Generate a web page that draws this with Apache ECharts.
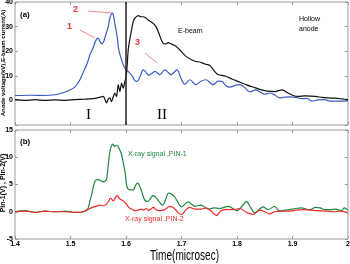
<!DOCTYPE html>
<html>
<head>
<meta charset="utf-8">
<script src="https://cdn.jsdelivr.net/npm/echarts@6/dist/echarts.min.js"></script>
<style>html,body{margin:0;padding:0;background:#fff}#c{width:350px;height:264px}</style>
</head>
<body>
<div id="c"></div>
<script>
// ---- data (time in microseconds) ----
var tBlue = [1.400,1.427,1.454,1.472,1.485,1.499,1.508,1.517,1.524,1.530,1.535,1.541,1.546,1.550,1.553,1.557,1.560,1.564,1.568,1.571,1.575,1.577,1.580,1.584,1.587,1.592,1.596,1.600,1.605,1.611,1.616,1.620,1.625,1.631,1.636,1.641,1.647,1.652,1.661,1.670,1.681,1.692,1.699,1.706,1.715,1.726,1.735,1.744,1.757,1.766,1.773,1.780,1.787,1.798,1.805,1.814,1.823,1.834,1.841,1.850,1.859,1.868,1.877,1.886,1.895,1.906,1.917,1.926,1.935,1.946,1.957,1.968,1.986,2.000];
var anodeVoltage = [2.0,2.1,2.0,2.3,3.0,4.2,5.5,8.4,12,15,18.5,21.5,24.5,25.3,24,23,24,27,30,33.5,35.5,35,31,26,20.5,16.5,14,12.5,11.5,10,8,7.7,9.5,12.4,11.5,10.2,11,11.8,10.5,12.4,10.5,12.4,9,6.6,8.4,6.4,7.8,8.4,6.4,7.8,7.7,6,5.4,6.2,6.4,5.2,3.5,4.3,3.5,2.5,3.0,2.2,1.0,1.3,1.4,1.2,0.7,0.8,-0.3,0.2,0.3,-0.3,-0.3,-0.2];

var tBeam = [1.400,1.418,1.436,1.454,1.472,1.490,1.508,1.526,1.544,1.553,1.559,1.562,1.565,1.568,1.571,1.574,1.577,1.580,1.583,1.586,1.589,1.592,1.595,1.598,1.600,1.602,1.604,1.607,1.610,1.613,1.616,1.622,1.627,1.631,1.636,1.640,1.645,1.649,1.654,1.658,1.663,1.667,1.672,1.676,1.681,1.685,1.690,1.697,1.703,1.709,1.718,1.726,1.733,1.742,1.751,1.759,1.766,1.773,1.780,1.792,1.805,1.818,1.832,1.844,1.856,1.868,1.881,1.892,1.901,1.910,1.923,1.941,1.953,1.964,1.977,1.989,2.000];
var beamCurrent = [0.3,0,0.3,0,0.2,0,0.3,0.5,0.8,1.3,1.6,0.5,-1,0.5,1,-0.5,1.5,3,1.6,6.4,3.6,7,5,7.7,9,14,20.5,25,28.6,32,33.4,34.5,34,34,33.5,32.7,32,31.3,30,28,25,23.2,23,23.5,23,22.6,22,20.5,19,17.8,16.5,15.8,15.6,14.8,14.2,12,10.4,10.2,9.8,8.6,7.4,6.2,5.2,4.3,3.8,3.6,4.3,3,2,1.6,1.8,1.6,1.2,1.0,0.9,0.6,0.3];

var tPin1 = [1.400,1.418,1.436,1.454,1.472,1.490,1.508,1.523,1.528,1.532,1.535,1.538,1.541,1.544,1.548,1.553,1.559,1.562,1.565,1.568,1.571,1.576,1.580,1.584,1.588,1.592,1.595,1.598,1.602,1.607,1.613,1.617,1.621,1.625,1.629,1.632,1.637,1.641,1.649,1.654,1.658,1.666,1.672,1.676,1.681,1.688,1.700,1.712,1.724,1.735,1.748,1.759,1.769,1.784,1.800,1.809,1.817,1.825,1.832,1.847,1.856,1.868,1.877,1.886,1.895,1.905,1.917,1.924,1.932,1.941,1.950,1.959,1.968,1.977,1.989,1.993,2.000];
var pin1 = [0,0.2,-0.1,0.1,0,0.1,-0.1,0,0.3,0.7,2,3.1,4.5,5.6,5.9,5.8,5.5,5.6,6,8.5,11,12.4,12,12.2,11.5,10.5,9,7.5,4.5,4,4,4.8,5.3,4.6,3.5,2.5,1.9,2.0,3.0,2.6,2.1,1.2,2.4,3.4,3.3,2.7,0.9,1.8,1.0,1.2,0.5,0.7,0.6,1.0,0.2,1.0,1.9,0.7,-0.2,0.9,0.4,1.0,0.1,0.3,0.4,0.6,0.7,0.5,0.4,0.8,0.7,0.4,0.4,0.5,0.2,0.7,0.3];

var tPin2 = [1.400,1.418,1.436,1.454,1.472,1.490,1.508,1.523,1.532,1.539,1.546,1.553,1.559,1.565,1.569,1.572,1.577,1.581,1.584,1.587,1.591,1.595,1.601,1.605,1.610,1.616,1.622,1.627,1.631,1.637,1.640,1.645,1.649,1.654,1.658,1.667,1.674,1.679,1.685,1.690,1.695,1.701,1.708,1.715,1.724,1.735,1.744,1.753,1.763,1.771,1.780,1.793,1.805,1.817,1.829,1.841,1.850,1.859,1.868,1.877,1.895,1.906,1.919,1.932,1.944,1.962,1.975,1.986,2.000];
var pin2 = [0,0.1,-0.1,0.1,0,0,-0.1,0,0.4,0.8,1.0,1.2,1.1,1.4,2.0,2.5,2.0,2.6,3.0,2.6,2.2,2.0,1.4,0.8,0.5,0.2,0.3,0.5,0.3,0.6,0.2,0.5,0.8,0.4,0.2,0.3,0.7,1.0,0.8,0.3,-0.3,-0.5,0.4,0.8,0.5,0.5,0.7,0.2,-0.7,0.2,0.4,0.4,0.6,-0.1,-0.5,0.3,0.0,-0.4,0.0,0.1,0.1,0.3,0.4,0.3,0.2,0.1,0.0,0.1,-0.2];

var xTicks = [1.4,1.5,1.6,1.7,1.8,1.9,2];
var yTicksTop = [-10,0,10,20,30,40];
var yTicksBottom = [-5,0,5,10,15];

function zip(a,b){ return a.map(function(v,i){ return [v,b[i]]; }); }

var chart = echarts.init(document.getElementById('c'), null, {renderer:'canvas'});
var FONT = 'Liberation Sans, Arial, sans-serif';
var gray = '#9a9a9a';
var lblStyle = {fontFamily: FONT, fontSize: 7, fontWeight: 'bold', color: '#000'};

function xAx(gi, pos, showLabel){
  return {
    type:'value', gridIndex: gi, position: pos,
    min: xTicks[0], max: xTicks[xTicks.length-1], interval: 0.1,
    axisLine:{show:false, onZero:false},
    axisTick:{show:true, inside:true, length:3, lineStyle:{color:gray}},
    splitLine:{show:false},
    axisLabel: showLabel ? Object.assign({show:true, margin:2, formatter:function(v){return String(Math.round(v*10)/10);}}, lblStyle) : {show:false}
  };
}
function yAx(gi, pos, ticks, showLabel, hideMin){
  return {
    type:'value', gridIndex: gi, position: pos,
    min: ticks[0], max: ticks[ticks.length-1], interval: ticks[1]-ticks[0],
    axisLine:{show:false, onZero:false},
    axisTick:{show:true, inside:true, length:3, lineStyle:{color:gray}},
    splitLine:{show:false},
    axisLabel: showLabel ? Object.assign({show:true, margin:2, formatter:function(v){ return (hideMin && v===ticks[0]) ? '' : String(v);}}, lblStyle) : {show:false}
  };
}

var arrowStyle = {color:'#f08a8a', width:1, type:'solid'};

chart.setOption({
  backgroundColor:'#fff',
  animation:false,
  grid:[
    {left:15, right:2, top:2, height:123, containLabel:false, outerBoundsMode:'none', show:true, borderColor:gray, borderWidth:1, backgroundColor:'transparent'},
    {left:15, right:2, top:130, height:109, containLabel:false, outerBoundsMode:'none', show:true, borderColor:gray, borderWidth:1, backgroundColor:'transparent'}
  ],
  xAxis:[
    xAx(0,'bottom',false),
    xAx(0,'top',false),
    xAx(1,'bottom',true),
    xAx(1,'top',false)
  ],
  yAxis:[
    yAx(0,'left',yTicksTop,true,true),
    yAx(0,'right',yTicksTop,false),
    yAx(1,'left',yTicksBottom,true,false),
    yAx(1,'right',yTicksBottom,false)
  ],
  series:[
    {type:'line', name:'Anode voltage', xAxisIndex:0, yAxisIndex:0, data: zip(tBlue, anodeVoltage), showSymbol:false, smooth:0.35,
      lineStyle:{color:'#3b5cc4', width:1.2}, itemStyle:{color:'#3b5cc4'},
      markLine:{silent:true, symbol:['none','arrow'], symbolSize:[0,5], label:{show:false}, lineStyle:arrowStyle,
        data:[
          [{coord:[1.517,28.6]},{coord:[1.544,25.4]}],
          [{coord:[1.5315,36.3]},{coord:[1.573,35.6]}],
          [{coord:[1.634,19.3]},{coord:[1.656,15.3]}]
        ]}
    },
    {type:'line', name:'E-beam', xAxisIndex:0, yAxisIndex:0, data: zip(tBeam, beamCurrent), showSymbol:false, smooth:0.25,
      lineStyle:{color:'#111', width:1.2}, itemStyle:{color:'#111'},
      markLine:{silent:true, symbol:['none','none'], label:{show:false}, lineStyle:{color:'#222', width:1.5, type:'solid'},
        data:[{xAxis:1.6}]}
    },
    {type:'line', name:'PIN-1', xAxisIndex:2, yAxisIndex:2, data: zip(tPin1, pin1), showSymbol:false, smooth:0.3,
      lineStyle:{color:'#1f8a3e', width:1.2}, itemStyle:{color:'#1f8a3e'}},
    {type:'line', name:'PIN-2', xAxisIndex:2, yAxisIndex:2, data: zip(tPin2, pin2), showSymbol:false, smooth:0.3,
      lineStyle:{color:'#ee2a2a', width:1.2}, itemStyle:{color:'#ee2a2a'}}
  ],
  graphic:[
    {type:'text', left:20, top:11, style:{text:'(a)', font:'bold 8px Liberation Sans', fill:'#000'}},
    {type:'text', left:20, top:138, style:{text:'(b)', font:'bold 8px Liberation Sans', fill:'#000'}},
    {type:'text', left:67, top:22, style:{text:'1', font:'bold 9px Liberation Sans', fill:'#ee3333'}},
    {type:'text', left:73, top:5, style:{text:'2', font:'bold 9px Liberation Sans', fill:'#ee3333'}},
    {type:'text', left:135, top:38, style:{text:'3', font:'bold 9px Liberation Sans', fill:'#ee3333'}},
    {type:'text', left:178, top:28, style:{text:'E-beam', font:'7px Liberation Sans', fill:'#000'}},
    {type:'text', left:299, top:14, style:{text:'Hollow\nanode', font:'7px Liberation Sans', fill:'#000', lineHeight:10}},
    {type:'text', left:86, top:108, style:{text:'I', font:'15px Liberation Serif', fill:'#000'}},
    {type:'text', left:157, top:108, style:{text:'II', font:'15px Liberation Serif', fill:'#000'}},
    {type:'text', left:128, top:151, style:{text:'X-ray signal ,PIN-1', font:'7px Liberation Sans', fill:'#1f8a3e'}},
    {type:'text', left:125, top:216, style:{text:'X-ray signal ,PIN-2', font:'7px Liberation Sans', fill:'#ee2a2a'}},
    {type:'text', x:150, y:249, scaleX:0.72, style:{text:'Time(microsec)', font:'14px Liberation Sans', fill:'#000'}},
    {type:'text', x:3.5, y:63, rotation:Math.PI/2, style:{text:'Anode voltage(kV),E-beam current(A)', font:'bold 6px Liberation Sans', fill:'#000', align:'center', verticalAlign:'middle'}},
    {type:'text', x:3.5, y:183, rotation:Math.PI/2, style:{text:'Pin-1(V) , Pin-2(V)', font:'bold 7px Liberation Sans', fill:'#000', align:'center', verticalAlign:'middle'}}
  ]
});
</script>
</body>
</html>
